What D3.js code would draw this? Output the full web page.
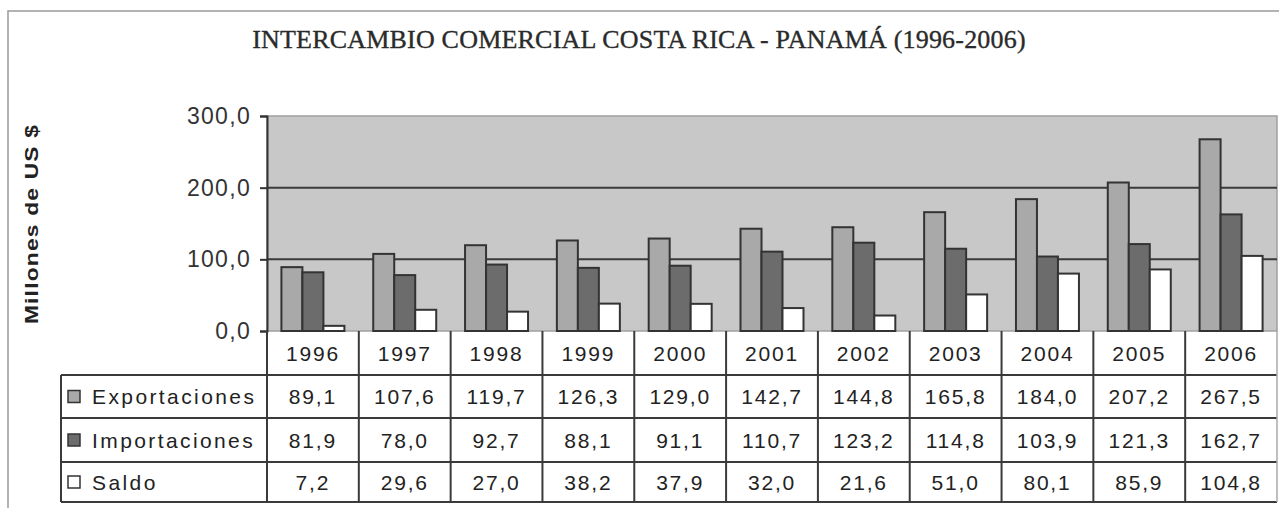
<!DOCTYPE html>
<html>
<head>
<meta charset="utf-8">
<script src="https://cdn.jsdelivr.net/npm/d3@7"></script>
<style>
  body { margin: 0; background: #fff; }
  svg { display: block; }
</style>
</head>
<body>
<svg id="chart" width="1279" height="508"></svg>
<script>
(function () {
    var years = ['1996', '1997', '1998', '1999', '2000', '2001', '2002', '2003', '2004', '2005', '2006'];
    var seriesNames = ['Exportaciones', 'Importaciones', 'Saldo'];
    var exportaciones = [89.1, 107.6, 119.7, 126.3, 129.0, 142.7, 144.8, 165.8, 184.0, 207.2, 267.5];
    var importaciones = [81.9, 78.0, 92.7, 88.1, 91.1, 110.7, 123.2, 114.8, 103.9, 121.3, 162.7];
    var saldo = [7.2, 29.6, 27.0, 38.2, 37.9, 32.0, 21.6, 51.0, 80.1, 85.9, 104.8];
    var yTicks = [0, 100, 200, 300];

    var series = [exportaciones, importaciones, saldo];
    var fills = ['#a9a9a9', '#6c6c6c', '#ffffff'];
    var ink = '#333';

    var svg = d3.select('#chart');
    var w = +svg.attr('width');

    var plot_left = 267, plot_right = 1277, plot_top = 116, plot_bottom = 331;
    var table_left = 61;
    var row_lines = [plot_bottom, 375, 418, 462, 502];

    var loc = d3.formatLocale({decimal: ',', thousands: '.', grouping: [3], currency: ['', '']});
    var fmt = loc.format('.1f');

    // outer frame
    svg.append('path')
        .attr('d', 'M8,' + 508 + 'V11H' + w)
        .attr('fill', 'none').attr('stroke', '#9a9a9a').attr('stroke-width', 1.5);

    // title
    svg.append('text')
        .attr('x', 639).attr('y', 48)
        .attr('text-anchor', 'middle')
        .style('font-family', '"Liberation Serif", "DejaVu Serif", serif')
        .style('font-size', '26px')
        .style('letter-spacing', '0.2px')
        .attr('fill', '#2a2a2a')
        .attr('stroke', '#2a2a2a').attr('stroke-width', 0.35)
        .text('INTERCAMBIO COMERCIAL COSTA RICA - PANAMÁ (1996-2006)');

    var xScale = d3.scaleBand().domain(years)
        .range([plot_left, plot_right])
        .paddingInner(0.314).paddingOuter(0.157);
    var xSub = d3.scaleBand().domain(d3.range(series.length))
        .range([0, xScale.bandwidth()]).padding(0);
    var yScale = d3.scaleLinear().domain([0, 300]).range([plot_bottom, plot_top]);
    var colScale = d3.scaleBand().domain(years).range([plot_left, plot_right]);

    // plot background
    svg.append('rect')
        .attr('x', plot_left).attr('y', plot_top)
        .attr('width', plot_right - plot_left).attr('height', plot_bottom - plot_top)
        .attr('fill', '#c8c8c8')
        .attr('stroke', '#a0a0a0').attr('stroke-width', 1.5);

    // gridlines
    svg.selectAll('line.grid')
        .data(yTicks.filter(function (d) { return d > 0 && d < 300; }))
        .enter().append('line')
        .attr('class', 'grid')
        .attr('x1', plot_left).attr('x2', plot_right)
        .attr('y1', yScale).attr('y2', yScale)
        .attr('stroke', '#3a3a3a').attr('stroke-width', 2);

    // bars
    var groups = svg.selectAll('g.year')
        .data(years)
        .enter().append('g')
        .attr('class', 'year')
        .attr('transform', function (d) { return 'translate(' + xScale(d) + ',0)'; });

    groups.selectAll('rect')
        .data(function (d, i) {
            return series.map(function (s, k) { return {k: k, v: s[i]}; });
        })
        .enter().append('rect')
        .attr('x', function (d) { return xSub(d.k); })
        .attr('width', xSub.bandwidth())
        .attr('y', function (d) { return yScale(d.v); })
        .attr('height', function (d) { return yScale(0) - yScale(d.v); })
        .attr('fill', function (d) { return fills[d.k]; })
        .attr('stroke', ink).attr('stroke-width', 2);

    // y axis
    var yAxis = d3.axisLeft(yScale).tickValues(yTicks).tickSize(7).tickPadding(9)
        .tickFormat(fmt);
    var yAxisGroup = svg.append('g')
        .attr('transform', 'translate(' + plot_left + ',0)')
        .call(yAxis);
    yAxisGroup.select('.domain').attr('stroke', ink).attr('stroke-width', 2);
    yAxisGroup.selectAll('.tick line').attr('stroke', ink).attr('stroke-width', 2);
    yAxisGroup.selectAll('.tick text')
        .attr('fill', ink)
        .style('font-family', '"Liberation Sans", Arial, sans-serif')
        .style('font-size', '23px')
        .style('letter-spacing', '1.3px');

    // y title
    svg.append('text')
        .attr('transform', 'translate(38,224) rotate(-90) scale(1.2,1)')
        .attr('text-anchor', 'middle')
        .style('font-family', '"Liberation Sans", Arial, sans-serif')
        .style('font-weight', 'bold')
        .style('font-size', '19px')
        .style('letter-spacing', '1px')
        .attr('fill', '#222')
        .text('Millones de US $');

    // data table
    var table = svg.append('g');
    var txtStyle = function (sel) {
        sel.style('font-family', '"Liberation Sans", Arial, sans-serif')
            .style('font-size', '21px')
            .style('letter-spacing', '1.8px')
            .attr('fill', '#222');
    };

    // horizontal lines
    table.selectAll('line.h')
        .data(row_lines.slice(1))
        .enter().append('line')
        .attr('x1', table_left).attr('x2', plot_right)
        .attr('y1', function (d) { return d; }).attr('y2', function (d) { return d; })
        .attr('stroke', '#3a3a3a').attr('stroke-width', 2);

    // vertical lines
    table.selectAll('line.v')
        .data(years.slice(1))
        .enter().append('line')
        .attr('x1', colScale).attr('x2', colScale)
        .attr('y1', plot_bottom).attr('y2', row_lines[4])
        .attr('stroke', '#3a3a3a').attr('stroke-width', 2);
    table.append('line')
        .attr('x1', plot_left).attr('x2', plot_left)
        .attr('y1', plot_bottom).attr('y2', row_lines[4])
        .attr('stroke', '#3a3a3a').attr('stroke-width', 2);
    table.append('line')
        .attr('x1', table_left).attr('x2', table_left)
        .attr('y1', row_lines[1]).attr('y2', row_lines[4])
        .attr('stroke', '#3a3a3a').attr('stroke-width', 2);
    table.append('line')
        .attr('x1', plot_right).attr('x2', plot_right)
        .attr('y1', plot_bottom).attr('y2', row_lines[4])
        .attr('stroke', '#aaa').attr('stroke-width', 1.5);

    // header years
    table.selectAll('text.year')
        .data(years)
        .enter().append('text')
        .attr('x', function (d) { return colScale(d) + colScale.bandwidth() / 2; })
        .attr('y', (row_lines[0] + row_lines[1]) / 2)
        .attr('dy', '0.36em')
        .attr('text-anchor', 'middle')
        .call(txtStyle)
        .text(function (d) { return d; });

    // value rows
    series.forEach(function (s, k) {
        var cy = (row_lines[k + 1] + row_lines[k + 2]) / 2;
        table.append('rect')
            .attr('x', 68).attr('y', cy - 6)
            .attr('width', 12).attr('height', 12)
            .attr('fill', fills[k]).attr('stroke', ink).attr('stroke-width', 1.5);
        table.append('text')
            .attr('x', 92).attr('y', cy).attr('dy', '0.36em')
            .call(txtStyle)
            .style('letter-spacing', '2.4px')
            .text(seriesNames[k]);
        table.selectAll('text.v' + k)
            .data(s)
            .enter().append('text')
            .attr('x', function (d, i) { return colScale(years[i]) + colScale.bandwidth() / 2; })
            .attr('y', cy).attr('dy', '0.36em')
            .attr('text-anchor', 'middle')
            .call(txtStyle)
            .text(function (d) { return fmt(d); });
    });
})();
</script>
</body>
</html>
